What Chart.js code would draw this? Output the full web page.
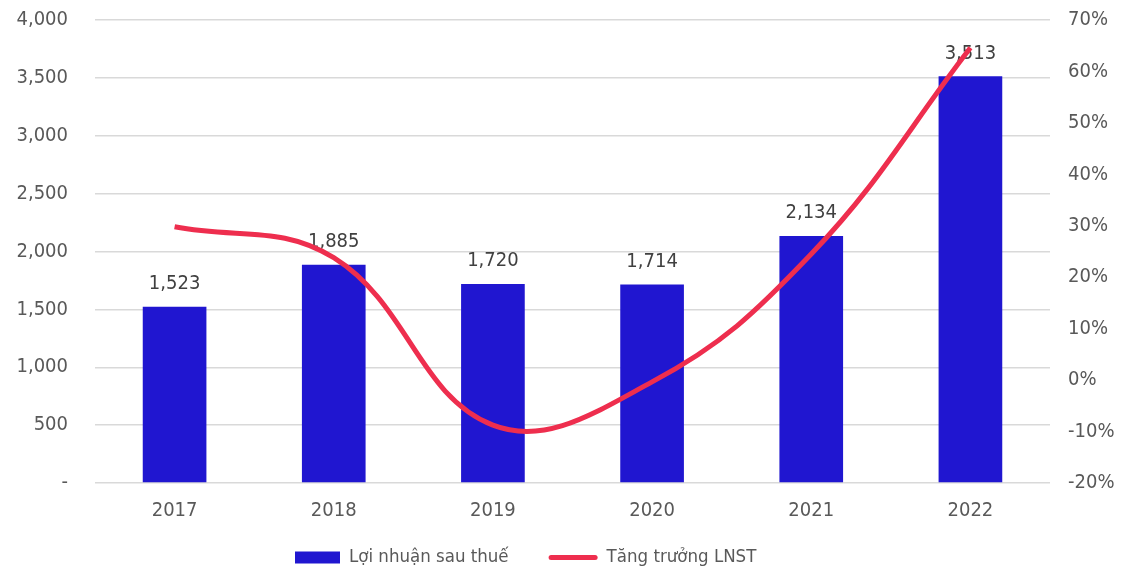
<!DOCTYPE html>
<html>
<head>
<meta charset="utf-8">
<script src="https://cdn.jsdelivr.net/npm/chart.js@4.4.0/dist/chart.umd.min.js"></script>
<style>
    html, body { margin: 0; padding: 0; background: #fff; overflow: hidden; }
    #wrap { width: 1124px; height: 571px; position: relative; }
</style>
</head>
<body>
<div id="wrap"><canvas id="profitChart"></canvas></div>
<script>
// chart data
const years = ["2017", "2018", "2019", "2020", "2021", "2022"];
const profit = [1523, 1885, 1720, 1714, 2134, 3513];
const growth = [0.298, 0.238, -0.0875, -0.0035, 0.245, 0.646];

const profitLabel = "Lợi nhuận sau thuế";
const growthLabel = "Tăng trưởng LNST";

const textColor = "#595959";
const fontFamily = "'DejaVu Sans Condensed', 'DejaVu Sans', sans-serif";
const fontSize = 20;

// draw values above bars, before the line is drawn
const barValues = {
    id: "barValues",
    afterDatasetDraw(chart, args) {
        if (args.index !== 0) return;
        const ctx = chart.ctx;
        ctx.save();
        ctx.font = fontSize + "px " + fontFamily;
        ctx.fillStyle = "#404040";
        ctx.textAlign = "center";
        ctx.textBaseline = "middle";
        args.meta.data.forEach((bar, i) => {
            ctx.fillText(profit[i].toLocaleString("en-US"), bar.x, bar.y - 23);
        });
        ctx.restore();
    }
};

// legend drawn by hand so the gap between the two items can be wider
const bottomLegend = {
    id: "bottomLegend",
    afterDraw(chart) {
        const ctx = chart.ctx;
        ctx.save();
        ctx.font = "18.5px " + fontFamily;
        ctx.textBaseline = "middle";
        const y = chart.height - 13.5;
        let x = chart.chartArea.left + 200;
        chart.data.datasets.forEach(ds => {
            let symW;
            if (ds.type === "bar") {
                symW = 45;
                ctx.fillStyle = ds.backgroundColor;
                ctx.fillRect(x, y - 6, symW, 12);
            } else {
                symW = 49;
                ctx.strokeStyle = ds.borderColor;
                ctx.lineWidth = 5;
                ctx.lineCap = "round";
                ctx.beginPath();
                ctx.moveTo(x + 2.5, y);
                ctx.lineTo(x + symW - 2.5, y);
                ctx.stroke();
            }
            ctx.fillStyle = textColor;
            ctx.fillText(ds.label, x + symW + 9, y);
            x += symW + 9 + ctx.measureText(ds.label).width + 40;
        });
        ctx.restore();
    }
};

// fixed axis widths, no extra label padding at top/bottom
function fixWidth(w) {
    return s => {
        s.width = w;
        s.paddingTop = 0;
        s.paddingBottom = 0;
    };
}

const ctx = document.getElementById("profitChart").getContext("2d");
new Chart(ctx, {
    data: {
        labels: years,
        datasets: [
            {
                type: "bar",
                label: profitLabel,
                data: profit,
                backgroundColor: "#2016D0",
                borderWidth: 0,
                barPercentage: 0.4,
                categoryPercentage: 1,
                yAxisID: "y",
                order: 1
            },
            {
                type: "line",
                label: growthLabel,
                data: growth,
                borderColor: "#EE2E4E",
                backgroundColor: "#EE2E4E",
                borderWidth: 5,
                tension: 0.4,
                pointRadius: 0,
                fill: false,
                yAxisID: "y1",
                order: 0
            }
        ]
    },
    options: {
        responsive: true,
        maintainAspectRatio: false,
        animation: false,
        layout: { padding: { left: 0, right: 0, top: 20, bottom: 40 } },
        plugins: {
            legend: { display: false },
            tooltip: { enabled: false }
        },
        scales: {
            x: {
                grid: { display: false },
                border: { display: false },
                ticks: { color: textColor, font: { family: fontFamily, size: fontSize }, padding: 8 }
            },
            y: {
                position: "left",
                min: 0,
                max: 4000,
                afterFit: fixWidth(95),
                ticks: {
                    stepSize: 500,
                    color: textColor,
                    padding: 27,
                    font: { family: fontFamily, size: fontSize },
                    callback: v => v === 0 ? "-" : v.toLocaleString("en-US")
                },
                grid: { color: "#D9D9D9", lineWidth: 1.5, drawTicks: false },
                border: { display: false }
            },
            y1: {
                position: "right",
                min: -0.2,
                max: 0.7,
                afterFit: fixWidth(74),
                ticks: {
                    stepSize: 0.1,
                    color: textColor,
                    padding: 18,
                    font: { family: fontFamily, size: fontSize },
                    callback: v => Math.round(v * 100) + "%"
                },
                grid: { display: false, drawTicks: false },
                border: { display: false }
            }
        }
    },
    plugins: [barValues, bottomLegend]
});
</script>
</body>
</html>
